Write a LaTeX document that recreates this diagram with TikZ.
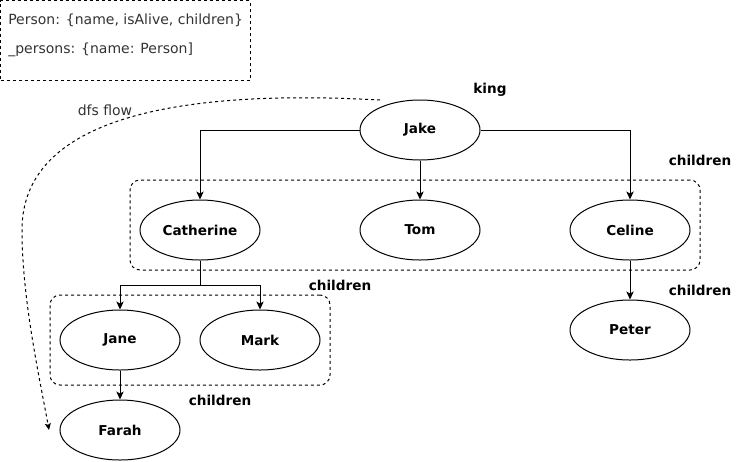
\documentclass[tikz,border=0pt]{standalone}
\usepackage{fontspec}
\setmainfont{DejaVu Sans}
\usetikzlibrary{shapes.geometric,arrows.meta,fit}
\begin{document}
\begin{tikzpicture}[x=0.75pt,y=-0.75pt,
  font=\fontsize{10.5}{12}\selectfont,
  person/.style={ellipse, draw, line width=0.75pt, minimum width=90pt, minimum height=45pt, inner sep=0pt, font=\fontsize{10.2}{12}\selectfont\bfseries},
  conn/.style={line width=0.75pt, -{Stealth[length=6pt,width=5.5pt,inset=1.5pt]}},
  group/.style={draw, dashed, dash pattern=on 2.25pt off 2.25pt, line width=0.75pt, rounded corners=7.5pt, inner sep=0pt},
  lbl/.style={font=\fontsize{10.2}{12}\selectfont\bfseries},
  legend/.style={draw, dashed, dash pattern=on 2.25pt off 2.25pt, line width=0.75pt, inner sep=0pt},
  plain/.style={text=black!80, anchor=west, inner sep=0pt, font=\fontsize{10.5}{12}\selectfont},
  flow/.style={line width=0.75pt, dash pattern=on 2.25pt off 2.25pt, -{Stealth[length=5pt,width=4.5pt,inset=1pt]}}
]
\useasboundingbox (0,0) rectangle (741,461);

% legend box
\node[legend, fit={(0.5,0.5) (250,80)}] (legendbox) {};
\node[plain] (l1) at (8,20) {Person: \{name, isAlive, children\}};
\node[plain] (l2) at (8,50) {\_persons: \{name: Person]};

% groups
\node[group, fit={(130,180) (700,270)}] (g1) {};
\node[group, fit={(50,295) (330,385)}] (g2) {};

% persons
\node[person] (jake) at (420,130) {Jake};
\node[person] (cath) at (200,230) {Catherine};
\node[person] (tom) at (420,230) {Tom};
\node[person] (celine) at (630,230) {Celine};
\node[person] (peter) at (630,330) {Peter};
\node[person] (jane) at (120,340) {Jane};
\node[person] (mark) at (260,340) {Mark};
\node[person] (farah) at (120,430) {Farah};

% labels
\node[lbl] (king) at (490,90) {king};
\node[lbl] (ch1) at (700,160) {children};
\node[lbl] (ch2) at (340,285) {children};
\node[lbl] (ch3) at (700,290) {children};
\node[lbl] (ch4) at (220,400) {children};

% connectors
\draw[conn] (jake.west) -| (cath.north);
\draw[conn] (jake.east) -| (celine.north);
\draw[conn] (jake.south) -- (tom.north);
\coordinate (split) at (200,285);
\draw[line width=0.75pt] (cath.south) -- (split);
\draw[conn] (split) -| (jane.north);
\draw[conn] (split) -| (mark.north);
\draw[conn] (celine.south) -- (peter.north);
\draw[conn] (jane.south) -- (farah.north);

% dfs flow
\coordinate (dfsstart) at (380,100);
\coordinate (dfsmid) at (22,230);
\coordinate (dfsend) at (49,430);
\draw[flow] (dfsstart) .. controls (200,90) and (22,110) .. (dfsmid) .. controls (22,300) and (40,380) .. (dfsend);
\node[text=black!80, fill=white, inner sep=0.5pt, font=\fontsize{10.5}{12}\selectfont] (dfslbl) at (105,110) {dfs flow};
\end{tikzpicture}
\end{document}
